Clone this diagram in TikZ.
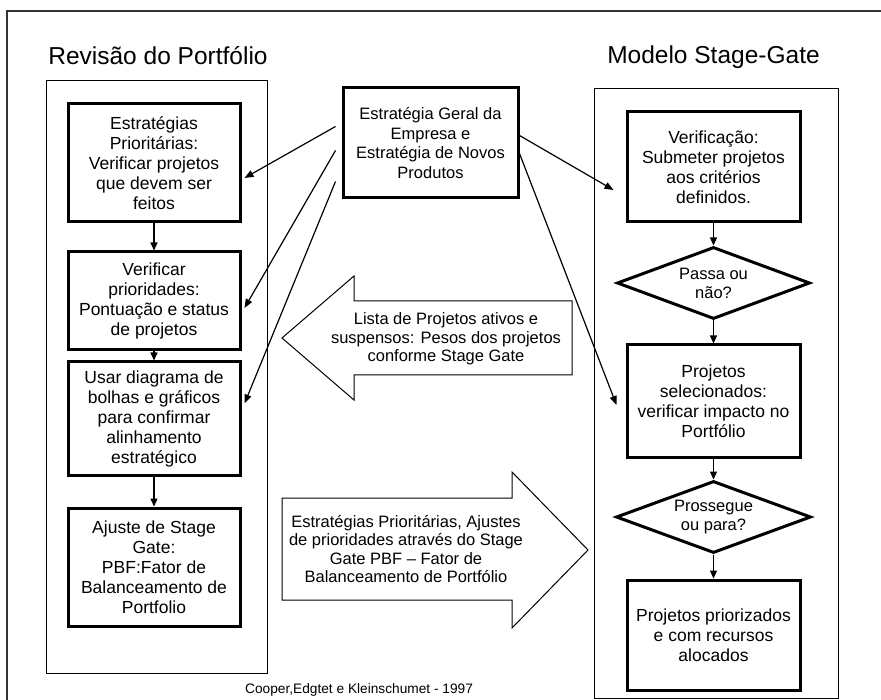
\documentclass[tikz,border=0pt]{standalone}
\usepackage{fontspec}
\setmainfont{Liberation Sans}
\usetikzlibrary{arrows.meta,shapes.geometric,calc}

\begin{document}
\begin{tikzpicture}[x=1pt,y=-1pt,
  panel/.style={draw, line width=1pt, inner sep=0pt},
  stepbox/.style={draw, line width=3pt, align=center, inner sep=0pt,
    font=\fontsize{17.5}{20}\selectfont, minimum width=172pt},
  decision/.style={draw, diamond, aspect=2.75, line width=3pt, align=center, inner sep=0pt,
    font=\fontsize{16.5}{19}\selectfont, minimum width=193pt, minimum height=72pt},
  flow/.style={-{Triangle[length=8pt,width=7pt]}, line width=1.3pt},
  link/.style={-{Triangle[length=9pt,width=7pt]}, line width=1.2pt},
  bigarrow/.style={draw, line width=1pt, line join=miter},
  arrowtext/.style={align=center, inner sep=0pt, font=\fontsize{16.5}{18.5}\selectfont},
  heading/.style={anchor=base, inner sep=0pt, font=\fontsize{24.5}{28}\selectfont},
  ]
\useasboundingbox (0,0) rectangle (881,700);
\clip (0,0) rectangle (881,700);
\fill[white] (0,0) rectangle (881,700);

% outer frame
\draw[line width=1.2pt, black!80] (7,720) -- (7,11) -- (900,11);

% headings
\node[heading] (t1) at (158,65) {Revisão do Portfólio};
\node[heading] (t2) at (713.5,64) {Modelo Stage-Gate};

% the two column frames
\node[panel, minimum width=221pt, minimum height=592pt] (lp) at (156.5,377) {};
\node[panel, minimum width=244pt, minimum height=609pt] (rp) at (716,393.5) {};

% portfolio review steps
\node[stepbox, minimum height=118pt] (b1) at (154,163)
  {Estratégias\\Prioritárias:\\Verificar projetos\\que devem ser\\feitos};
\node[stepbox, minimum height=98pt] (b2) at (154,301)
  {Verificar\\prioridades:\\Pontuação e status\\de projetos};
\node[stepbox, minimum height=113pt] (b3) at (154,418.5)
  {Usar diagrama de\\bolhas e gráficos\\para confirmar\\alinhamento\\estratégico};
\node[stepbox, minimum height=118pt] (b4) at (154,567)
  {Ajuste de Stage\\Gate:\\PBF:Fator de\\Balanceamento de\\Portfolio};

% company strategy
\node[stepbox, minimum width=175pt, minimum height=110pt,
  font=\fontsize{16.5}{19.5}\selectfont] (c) at (430.5,143)
  {Estratégia Geral da\\Empresa e\\Estratégia de Novos\\Produtos};

% stage-gate steps
\node[stepbox, minimum width=173pt, minimum height=110pt] (r1) at (713.5,167)
  {Verificação:\\Submeter projetos\\aos critérios\\definidos.};
\node[decision] (d1) at (713.5,283) {Passa ou\\não?};
\node[stepbox, minimum width=173pt, minimum height=112pt] (r2) at (713.5,401)
  {Projetos\\selecionados:\\verificar impacto no\\Portfólio};
\node[decision, minimum width=195pt] (d2) at (713.5,517) {Prossegue\\ou para?};
\node[stepbox, minimum width=173pt, minimum height=110pt] (r3) at (713.5,635)
  {Projetos priorizados\\e com recursos\\alocados};

% vertical flow
\draw[flow] (b1.south) -- (b2.north);
\draw[flow] (b2.south) -- (b3.north);
\draw[flow] (b3.south) -- (b4.north);
\draw[flow] (r1.south) -- (d1.north);
\draw[flow] (d1.south) -- (r2.north);
\draw[flow] (r2.south) -- (d2.north);
\draw[flow] (d2.south) -- (r3.north);

% strategy links
\draw[link] ($(c.north west)+(-6,40)$) -- ($(b1.east)+(3,15)$);
\draw[link] ($(c.north west)+(-6,64)$) -- ($(b2.east)+(3,7)$);
\draw[link] ($(c.north west)+(-6,95)$) -- ($(b3.east)+(3,-15)$);
\draw[link] ($(c.north east)+(0,49)$) -- ($(r1.west)+(-12,23)$);
\draw[link] ($(c.north east)+(0,67)$) -- ($(r2.west)+(-9,4)$);

% block arrows between the columns
\draw[bigarrow] (282,338) -- (354,276) -- (354,301) -- (572,301) -- (572,375)
  -- (354,375) -- (354,400) -- cycle;
\node[arrowtext] (lt) at (446,339)
  {Lista de Projetos ativos e\\suspensos: Pesos dos projetos\\conforme Stage Gate};
\draw[bigarrow] (282,498) -- (512,498) -- (512,472) -- (588,550) -- (512,628)
  -- (512,600) -- (282,600) -- cycle;
\node[arrowtext] (rt) at (406,549)
  {Estratégias Prioritárias, Ajustes\\de prioridades através do Stage\\Gate PBF – Fator de\\Balanceamento de Portfólio};

% source
\node[anchor=base west, inner sep=0pt, font=\fontsize{13.7}{16}\selectfont] (src) at (245,693)
  {Cooper,Edgtet e Kleinschumet - 1997};
\end{tikzpicture}
\end{document}
